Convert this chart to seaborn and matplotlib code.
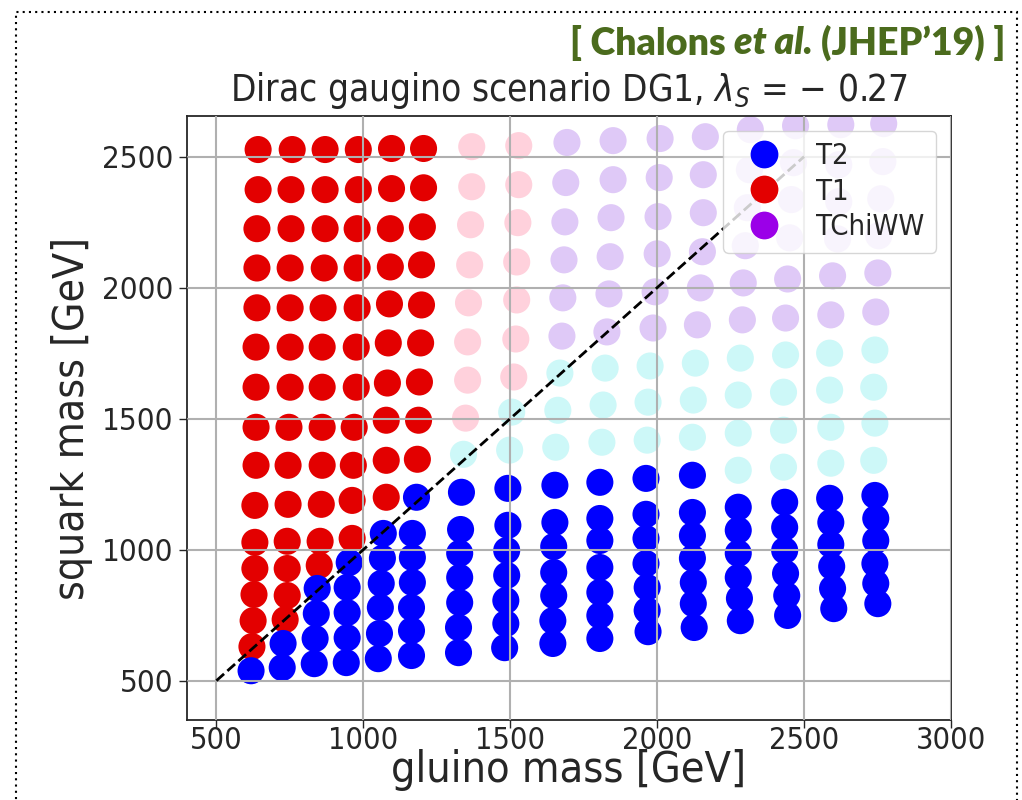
import matplotlib
matplotlib.use("Agg")
import matplotlib.pyplot as plt
import seaborn as sns
import pandas as pd
from matplotlib.lines import Line2D
from matplotlib.patches import Rectangle

# ---------------- data ----------------
# codes: B = T2 (excluded), R = T1 (excluded), P = T1 (allowed, faded),
#        V = TChiWW (allowed, faded), C = other (allowed, faded)
c01_x = [642, 642, 638, 638, 638, 635, 635, 635, 635, 631, 631, 631, 628, 625, 621, 618]
c01_y = [2527, 2374, 2225, 2075, 1923, 1773, 1620, 1467, 1322, 1169, 1028, 928, 829, 729, 630, 538]
c01_c = "RRRRRRRRRRRRRRRB"

c02_x = [758, 754, 754, 751, 751, 751, 751, 747, 744, 744, 741, 741, 741, 734, 727, 724]
c02_y = [2527, 2374, 2225, 2075, 1923, 1773, 1620, 1467, 1322, 1173, 1032, 928, 825, 733, 642, 550]
c02_c = "RRRRRRRRRRRRRRBB"

c03_x = [870, 870, 870, 867, 863, 860, 860, 860, 860, 857, 853, 850, 843, 840, 836, 833]
c03_y = [2527, 2374, 2225, 2075, 1923, 1773, 1620, 1467, 1322, 1173, 1032, 940, 852, 756, 661, 565]
c03_c = "RRRRRRRRRRRRBBBB"

c04_x = [983, 983, 979, 979, 979, 976, 976, 969, 966, 962, 962, 952, 945, 945, 945, 942]
c04_y = [2527, 2374, 2225, 2075, 1923, 1773, 1620, 1467, 1322, 1188, 1043, 951, 856, 760, 664, 569]
c04_c = "RRRRRRRRRRRBBBBB"

c05_x = [1096, 1096, 1092, 1092, 1089, 1085, 1082, 1078, 1078, 1078, 1068, 1065, 1061, 1058, 1055, 1051]
c05_y = [2531, 2378, 2225, 2079, 1938, 1789, 1636, 1494, 1341, 1200, 1062, 967, 871, 779, 680, 584]
c05_c = "RRRRRRRRRRBBBBBB"

c06_x = [1205, 1205, 1201, 1198, 1198, 1195, 1191, 1188, 1184, 1181, 1167, 1167, 1167, 1164, 1164, 1164]
c06_y = [2531, 2381, 2232, 2087, 1934, 1789, 1640, 1494, 1345, 1200, 1062, 970, 875, 779, 691, 596]
c06_c = "RRRRRRRRRBBBBBBB"

c07_x = [1369, 1369, 1365, 1362, 1358, 1355, 1355, 1348, 1341, 1334, 1331, 1328, 1328, 1328, 1324, 1324]
c07_y = [2538, 2385, 2240, 2087, 1942, 1793, 1647, 1502, 1364, 1219, 1077, 986, 894, 798, 703, 607]
c07_c = "PPPPPPPPCBBBBBBB"

c08_x = [1529, 1529, 1526, 1522, 1522, 1519, 1512, 1505, 1498, 1492, 1492, 1488, 1488, 1485, 1485, 1481]
c08_y = [2542, 2393, 2248, 2098, 1953, 1804, 1659, 1525, 1380, 1234, 1093, 997, 902, 806, 718, 626]
c08_c = "PPPPPPPCCBBBBBBB"

c09_x = [1693, 1689, 1686, 1683, 1679, 1676, 1669, 1662, 1655, 1652, 1652, 1648, 1648, 1648, 1645, 1645]
c09_y = [2554, 2401, 2251, 2106, 1961, 1815, 1674, 1532, 1391, 1246, 1104, 1012, 913, 825, 729, 642]
c09_c = "VVVVVVCCCBBBBBBB"

c10_x = [1850, 1850, 1843, 1840, 1836, 1829, 1823, 1816, 1812, 1805, 1805, 1805, 1805, 1805, 1805, 1805]
c10_y = [2561, 2412, 2267, 2118, 1976, 1831, 1693, 1552, 1410, 1257, 1119, 1035, 932, 837, 749, 661]
c10_c = "VVVVVVCCCBBBBBBB"

c11_x = [2010, 2007, 2003, 2000, 1993, 1986, 1976, 1969, 1966, 1962, 1962, 1962, 1962, 1966, 1966, 1969]
c11_y = [2569, 2420, 2271, 2129, 1984, 1846, 1701, 1563, 1418, 1272, 1135, 1043, 947, 856, 768, 687]
c11_c = "VVVVVVCCCBBBBBBB"

c12_x = [2164, 2157, 2157, 2154, 2147, 2137, 2130, 2123, 2120, 2120, 2120, 2120, 2120, 2123, 2123, 2126]
c12_y = [2576, 2431, 2286, 2137, 1999, 1858, 1712, 1571, 1429, 1284, 1142, 1054, 967, 875, 794, 703]
c12_c = "VVVVVVCCCBBBBBBB"

c13_x = [2317, 2314, 2307, 2300, 2293, 2290, 2283, 2276, 2276, 2276, 2276, 2276, 2276, 2276, 2280, 2283]
c13_y = [2603, 2450, 2305, 2160, 2018, 1877, 1731, 1590, 1445, 1303, 1162, 1074, 986, 894, 814, 729]
c13_c = "VVVVVVCCCCBBBBBB"

c14_x = [2471, 2464, 2457, 2451, 2444, 2437, 2437, 2430, 2430, 2430, 2434, 2434, 2434, 2437, 2441, 2444]
c14_y = [2618, 2477, 2336, 2190, 2033, 1884, 1743, 1601, 1456, 1315, 1181, 1085, 997, 909, 825, 749]
c14_c = "VVVVVVCCCCBBBBBB"

c15_x = [2625, 2618, 2618, 2614, 2597, 2591, 2587, 2587, 2591, 2591, 2587, 2591, 2591, 2594, 2597, 2601]
c15_y = [2622, 2469, 2328, 2186, 2045, 1896, 1750, 1609, 1467, 1330, 1196, 1104, 1020, 936, 852, 775]
c15_c = "VVVVVVCCCCBBBBBB"

c16_x = [2771, 2768, 2761, 2754, 2751, 2744, 2741, 2737, 2741, 2737, 2741, 2744, 2744, 2741, 2744, 2751]
c16_y = [2626, 2481, 2339, 2198, 2056, 1907, 1762, 1620, 1483, 1341, 1207, 1119, 1035, 947, 871, 794]
c16_c = "VVVVVVCCCCBBBBBB"

diag_x = [500, 2500]
diag_y = [500, 2500]

legend_labels = ["T2", "T1", "TChiWW"]
x_ticks = [500, 1000, 1500, 2000, 2500, 3000]
y_ticks = [500, 1000, 1500, 2000, 2500]

title_text = "Dirac gaugino scenario DG1, $\\lambda_S$ = \u2212 0.27"
x_label = "gluino mass [GeV]"
y_label = "squark mass [GeV]"

# ---------------- styling ----------------
colors = {
    "B": "#0000ff",
    "R": "#e30000",
    "P": "#ffd1dc",
    "V": "#dfc9f7",
    "C": "#cdf8f8",
}
purple = "#9b00e8"
green = "#4b6b1d"
ink = "#262626"

sns.set_style("ticks")
plt.rcParams["font.family"] = ["DejaVu Sans"]
plt.rcParams["font.stretch"] = "condensed"
plt.rcParams["mathtext.fontset"] = "dejavusans"

columns = [
    (c01_x, c01_y, c01_c), (c02_x, c02_y, c02_c), (c03_x, c03_y, c03_c), (c04_x, c04_y, c04_c),
    (c05_x, c05_y, c05_c), (c06_x, c06_y, c06_c), (c07_x, c07_y, c07_c), (c08_x, c08_y, c08_c),
    (c09_x, c09_y, c09_c), (c10_x, c10_y, c10_c), (c11_x, c11_y, c11_c), (c12_x, c12_y, c12_c),
    (c13_x, c13_y, c13_c), (c14_x, c14_y, c14_c), (c15_x, c15_y, c15_c), (c16_x, c16_y, c16_c),
]
records = []
for xs, ys, cs in columns:
    for x, y, c in zip(xs, ys, cs):
        records.append({"gluino": x, "squark": y, "code": c})
df = pd.DataFrame(records)

fig = plt.figure(figsize=(10.22, 8.0), dpi=100)
ax = fig.add_axes([187 / 1022, 80 / 800, (951 - 187) / 1022, (720 - 116) / 800])

msize = 380
faded = df[df["code"].isin(["P", "V", "C"])]
bright = df[df["code"].isin(["R", "B"])]
sns.scatterplot(data=faded, x="gluino", y="squark", hue="code", palette=colors,
                s=msize, linewidth=0, legend=False, ax=ax, zorder=1)
sns.scatterplot(data=bright, x="gluino", y="squark", hue="code", palette=colors,
                s=msize, linewidth=0, legend=False, ax=ax, zorder=1.2)
ax.plot(diag_x, diag_y, color="black", linestyle="--", lw=2.0, zorder=3)

ax.set_xlim(400, 3000)
ax.set_ylim(350, 2655)
ax.set_xticks(x_ticks)
ax.set_yticks(y_ticks)
ax.grid(True, color="#b0b0b0", lw=1.5)
ax.set_axisbelow(False)
for sp in ax.spines.values():
    sp.set_color(ink)
    sp.set_linewidth(1.3)
ax.tick_params(labelsize=22.5, length=6, width=1.0, colors=ink, labelcolor=ink)
ax.tick_params(axis="x", labelsize=22, pad=-2)
ax.tick_params(axis="y", pad=4)

ax.set_xlabel(x_label, fontsize=31, color=ink, labelpad=-4)
ax.set_ylabel(y_label, fontsize=30.5, color=ink, labelpad=6)
ax.set_title(title_text, fontsize=26.5, color=ink, pad=11)

handles = [
    Line2D([], [], marker="o", ls="", color=colors["B"], markersize=20, markeredgewidth=0),
    Line2D([], [], marker="o", ls="", color=colors["R"], markersize=20, markeredgewidth=0),
    Line2D([], [], marker="o", ls="", color=purple, markersize=20, markeredgewidth=0),
]
leg = ax.legend(handles, legend_labels, loc="upper right", fontsize=21, frameon=True,
                framealpha=0.8, borderaxespad=0.5, handletextpad=0.8, labelspacing=0.25,
                borderpad=0.4)
leg.get_frame().set_edgecolor("#cccccc")
leg.set_zorder(5)

# dotted slide frame
fig.patches.append(Rectangle((16 / 1022, -0.1), (1017 - 16) / 1022, 1.1 - 12 / 800,
                             transform=fig.transFigure, fill=False, edgecolor="black",
                             linestyle=(0, (1, 2)), lw=1.5))

# citation text in green, built from pieces
fig.canvas.draw()
renderer = fig.canvas.get_renderer()
y_cite = 1 - 43 / 800
right = 1005 / 1022
pieces = [("(JHEP\u201919) ]", "normal"), ("et al.", "italic"), ("[ Chalons", "normal")]
gap = 8 / 1022
x_r = right
for txt, style in pieces:
    t = fig.text(x_r, y_cite, txt, ha="right", va="center", fontsize=27,
                 family=["Lato", "DejaVu Sans"], weight="heavy", style=style,
                 stretch="normal", color=green)
    bb = t.get_window_extent(renderer=renderer)
    x_r = bb.x0 / 1022 - gap

fig.savefig("out.png", dpi=100)
